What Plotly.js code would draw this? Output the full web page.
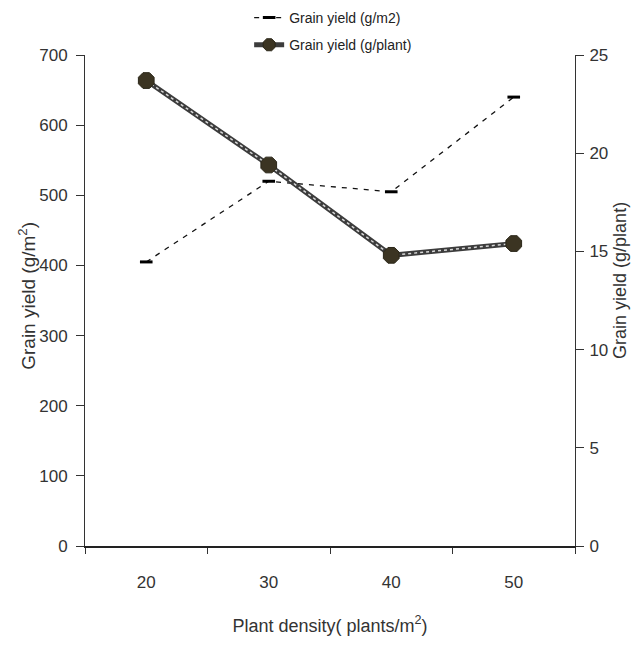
<!DOCTYPE html>
<html>
<head>
<meta charset="utf-8">
<script src="https://cdn.plot.ly/plotly-3.0.1.min.js"></script>
<style>html,body{margin:0;padding:0;background:#fff;}#chart{width:632px;height:649px;}</style>
</head>
<body>
<div id="chart"></div>
<script>
var densities = ['20', '30', '40', '50'];
var yieldPerM2 = [405, 520, 505, 640];
var yieldPerPlant = [23.7, 19.4, 14.8, 15.4];
var leftTicks = [0, 100, 200, 300, 400, 500, 600, 700];
var rightTicks = [0, 5, 10, 15, 20, 25];

var sans = '"Liberation Sans", Arial, sans-serif';

var traces = [
  {
    x: densities, y: yieldPerM2, name: 'Grain yield (g/m2)', type: 'scatter', mode: 'lines+markers',
    yaxis: 'y', legendgroup: 'a',
    line: {color: '#111', width: 1.3, dash: '5px,6px'},
    marker: {symbol: 'line-ew', size: 9, line: {color: '#000', width: 3}}
  },
  {
    x: densities, y: yieldPerPlant, name: 'Grain yield (g/plant)', type: 'scatter', mode: 'lines+markers',
    yaxis: 'y2', legendgroup: 'b',
    line: {color: '#3c3c3c', width: 5},
    marker: {symbol: 'octagon', size: 13, color: '#3b3422', line: {color: '#2a2618', width: 1}}
  },
  {
    x: densities, y: yieldPerPlant, name: 'chain', type: 'scatter', mode: 'lines',
    yaxis: 'y2', showlegend: false, hoverinfo: 'skip',
    line: {color: '#d8d8d8', width: 1.5, dash: 'dot'}
  },
  {
    x: densities, y: yieldPerPlant, name: 'points', type: 'scatter', mode: 'markers',
    yaxis: 'y2', showlegend: false, hoverinfo: 'skip',
    marker: {symbol: 'octagon', size: 17, color: '#3b3422', line: {color: '#2a2618', width: 1}}
  }
];

var layout = {
  width: 632, height: 649,
  margin: {l: 85, r: 57, t: 55, b: 103, autoexpand: false},
  paper_bgcolor: '#fff', plot_bgcolor: '#fff',
  showlegend: true,
  legend: {
    xref: 'paper', yref: 'container',
    x: 0.335, xanchor: 'left', y: 0.997, yanchor: 'top',
    bgcolor: 'rgba(0,0,0,0)', font: {family: sans, size: 14, color: '#222'},
    tracegroupgap: 6
  },
  xaxis: {
    type: 'category', categoryarray: densities, range: [-0.5, 3.5],
    tickson: 'boundaries', ticks: 'outside', ticklen: 6, tickcolor: '#333',
    showline: true, linecolor: '#222', linewidth: 1.5, showgrid: false, zeroline: false,
    tickfont: {family: sans, size: 17, color: '#333'}, ticklabelstandoff: 20,
    title: {text: 'Plant density( plants/m<sup>2</sup>)', font: {family: sans, size: 18, color: '#333'}, standoff: 28}
  },
  yaxis: {
    range: [0, 700], tickvals: leftTicks, ticks: 'outside', ticklen: 8, tickcolor: '#333',
    showline: true, linecolor: '#333', linewidth: 1, showgrid: false, zeroline: false,
    tickfont: {family: sans, size: 17, color: '#333'}, ticklabelstandoff: 5
  },
  yaxis2: {
    range: [0, 25], tickvals: rightTicks, overlaying: 'y', side: 'right',
    ticks: 'outside', ticklen: 8, tickcolor: '#333',
    showline: true, linecolor: '#333', linewidth: 1, showgrid: false, zeroline: false,
    tickfont: {family: sans, size: 17, color: '#333'}, ticklabelstandoff: 2
  },
  annotations: [
    {text: 'Grain yield (g/m<sup>2</sup>)', xref: 'paper', yref: 'paper', x: -0.12, y: 0.51,
     xanchor: 'center', yanchor: 'middle', textangle: -90, showarrow: false,
     font: {family: sans, size: 19, color: '#333'}},
    {text: 'Grain yield (g/plant)', xref: 'paper', yref: 'paper', x: 1.092, y: 0.54,
     xanchor: 'center', yanchor: 'middle', textangle: -90, showarrow: false,
     font: {family: sans, size: 18, color: '#333'}}
  ]
};

Plotly.newPlot('chart', traces, layout, {displayModeBar: false, staticPlot: true});
</script>
</body>
</html>
